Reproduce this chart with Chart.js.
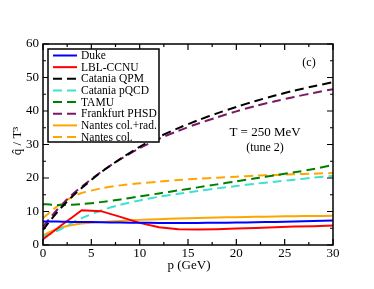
<!DOCTYPE html>
<html>
<head>
<meta charset="utf-8">
<script src="https://cdn.jsdelivr.net/npm/chart.js@4"></script>
<style>
  body { margin: 0; background: #fff; }
  #wrap { width: 374px; height: 289px; }
</style>
</head>
<body>
<div id="wrap"><canvas id="qhatChart" width="374" height="289"></canvas></div>
<script>
// momentum grid (GeV)
var p = [0, 1, 2, 3, 4, 6, 8, 10, 12, 14, 16, 18, 20, 22, 24, 26, 28, 30];

// qhat / T^3 for each model
var duke        = [7, 7, 6.95, 6.9, 6.9, 6.8, 6.7, 6.65, 6.6, 6.55, 6.6, 6.65, 6.7, 6.8, 6.9, 7, 7.15, 7.3];
var lblCcnu     = [1.7, 3.9, 6.1, 8.2, 10.4, 10.1, 8.4, 6.6, 5.3, 4.7, 4.6, 4.7, 4.9, 5.1, 5.3, 5.5, 5.6, 5.8];
var cataniaQPM  = [4.5, 8.2, 11.5, 14.4, 17, 21.7, 25.7, 29.3, 32.3, 34.9, 37.2, 39.3, 41.2, 43, 44.6, 46.1, 47.4, 48.6];
var cataniaPQCD = [2.5, 3.6, 5, 6.6, 8, 10.3, 12, 13.3, 14.4, 15.3, 16.1, 16.9, 17.6, 18.3, 18.9, 19.5, 20.1, 20.6];
var tamu        = [12.2, 12, 11.9, 12, 12.2, 12.8, 13.6, 14.5, 15.4, 16.3, 17.2, 18.1, 19, 19.9, 20.8, 21.7, 22.7, 23.9];
var phsd        = [5.5, 9, 12.2, 15, 17.4, 21.8, 25.6, 28.9, 31.7, 34.1, 36.2, 38.1, 39.9, 41.5, 42.9, 44.2, 45.4, 46.5];
var nantesRad   = [2.8, 4.3, 5.3, 6, 6.4, 6.9, 7.2, 7.5, 7.7, 7.9, 8.05, 8.2, 8.3, 8.4, 8.5, 8.6, 8.65, 8.7];
var nantesCol   = [8, 10.5, 12.6, 14.3, 15.5, 16.9, 17.8, 18.4, 18.9, 19.4, 19.8, 20.1, 20.4, 20.7, 20.9, 21.1, 21.3, 21.5];

var xTicks = [0, 5, 10, 15, 20, 25, 30];
var yTicks = [0, 10, 20, 30, 40, 50, 60];

var serif = "'Liberation Serif', 'DejaVu Serif', serif";

function pts(vals) {
  var out = [];
  for (var i = 0; i < p.length; i++) out.push({x: p[i], y: vals[i]});
  return out;
}

function series(label, vals, color, dashed, tension) {
  return {
    label: label,
    data: pts(vals),
    borderColor: color,
    backgroundColor: color,
    borderWidth: 2,
    borderDash: dashed ? [9, 5] : [],
    pointRadius: 0,
    tension: tension,
    fill: false
  };
}

var datasets = [
  series("Duke", duke, "#0000ff", false, 0.3),
  series("LBL-CCNU", lblCcnu, "#ff0000", false, 0),
  series("Catania QPM", cataniaQPM, "#000000", true, 0.3),
  series("Catania pQCD", cataniaPQCD, "#40e0d0", true, 0.3),
  series("TAMU", tamu, "#008000", true, 0.3),
  series("Frankfurt PHSD", phsd, "#7a1a66", true, 0.3),
  series("Nantes col.+rad.", nantesRad, "#ffa500", false, 0.3),
  series("Nantes col.", nantesCol, "#ffa500", true, 0.3)
];

// frame, inward ticks, legend box and free text
var decorations = {
  id: 'decorations',
  afterDatasetsDraw: function(chart) {
    var ctx = chart.ctx;
    var a = chart.chartArea;
    var xs = chart.scales.x, ys = chart.scales.y;
    ctx.save();
    ctx.strokeStyle = '#000';
    ctx.lineWidth = 1.5;
    ctx.setLineDash([]);
    ctx.strokeRect(a.left, a.top, a.right - a.left, a.bottom - a.top);

    ctx.lineWidth = 1.2;
    ctx.beginPath();
    for (var v = 0; v <= 30; v += 2.5) {
      var px = xs.getPixelForValue(v);
      var len = (v % 5 === 0) ? 6 : 3;
      ctx.moveTo(px, a.bottom); ctx.lineTo(px, a.bottom - len);
      ctx.moveTo(px, a.top); ctx.lineTo(px, a.top + len);
    }
    for (var w = 0; w <= 60; w += 5) {
      var py = ys.getPixelForValue(w);
      var len2 = (w % 10 === 0) ? 6 : 3;
      ctx.moveTo(a.left, py); ctx.lineTo(a.left + len2, py);
      ctx.moveTo(a.right, py); ctx.lineTo(a.right - len2, py);
    }
    ctx.stroke();

    // legend
    var lx = 48, ly = 49, lw = 111, lh = 93;
    ctx.fillStyle = '#fff';
    ctx.fillRect(lx, ly, lw, lh);
    ctx.lineWidth = 1.5;
    ctx.strokeRect(lx, ly, lw, lh);
    ctx.font = '11.5px ' + serif;
    ctx.textBaseline = 'middle';
    ctx.textAlign = 'left';
    chart.data.datasets.forEach(function(ds, i) {
      var rowY = 55.5 + i * 11.65;
      ctx.strokeStyle = ds.borderColor;
      ctx.lineWidth = 2;
      ctx.setLineDash(ds.borderDash.length ? [9, 5] : []);
      ctx.beginPath();
      ctx.moveTo(53, rowY); ctx.lineTo(77, rowY);
      ctx.stroke();
      ctx.setLineDash([]);
      ctx.fillStyle = '#000';
      ctx.fillText(ds.label, 81, rowY + 0.5);
    });

    ctx.fillStyle = '#000';
    ctx.font = '12px ' + serif;
    ctx.textAlign = 'center';
    ctx.fillText('(c)', 309, 63);
    ctx.font = '13px ' + serif;
    ctx.fillText('T = 250 MeV', 265, 133);
    ctx.font = '12px ' + serif;
    ctx.fillText('(tune 2)', 265, 148);

    // axis titles
    ctx.font = '13px ' + serif;
    ctx.fillText('p (GeV)', 189, 266);
    ctx.translate(18, 141);
    ctx.rotate(-Math.PI / 2);
    ctx.fillText('q\u0302 / T\u00B3', 0, 0);
    ctx.restore();
  }
};

var ctx = document.getElementById('qhatChart').getContext('2d');
var chart = new Chart(ctx, {
  type: 'line',
  data: { datasets: datasets },
  options: {
    responsive: false,
    animation: false,
    layout: { padding: { left: 0, top: 44, right: 41, bottom: 0 } },
    plugins: { legend: { display: false }, tooltip: { enabled: false } },
    scales: {
      x: {
        type: 'linear',
        min: 0, max: 30,
        afterFit: function(s) { s.height = 44; },
        afterBuildTicks: function(s) { s.ticks = xTicks.map(function(v) { return {value: v}; }); },
        grid: { display: false, drawTicks: false },
        border: { display: false },
        ticks: { color: '#000', font: { family: serif, size: 13 }, padding: 1, maxRotation: 0 }
      },
      y: {
        type: 'linear',
        min: 0, max: 60,
        afterFit: function(s) { s.width = 43; },
        afterBuildTicks: function(s) { s.ticks = yTicks.map(function(v) { return {value: v}; }); },
        grid: { display: false, drawTicks: false },
        border: { display: false },
        ticks: { color: '#000', font: { family: serif, size: 13 }, padding: 4 }
      }
    }
  },
  plugins: [decorations]
});
</script>
</body>
</html>
